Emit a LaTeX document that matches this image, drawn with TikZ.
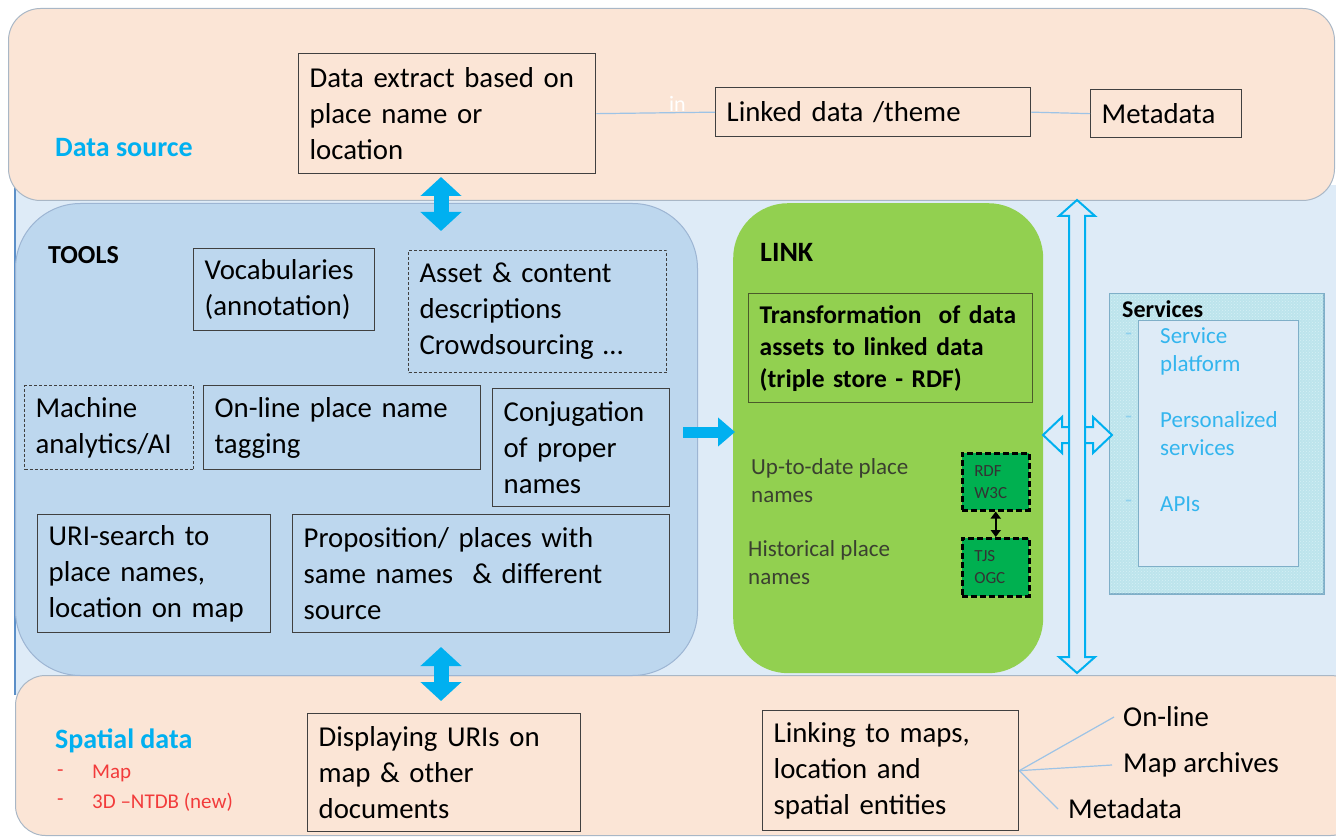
\documentclass[tikz,border=0pt]{standalone}
\usepackage{fontspec}
\setmainfont{Carlito}
\usetikzlibrary{arrows.meta,patterns}
\definecolor{peach}{HTML}{FBE5D6}
\definecolor{bgblue}{HTML}{DEEBF7}
\definecolor{toolblue}{HTML}{BDD7EE}
\definecolor{toolborder}{HTML}{9DB5D3}
\definecolor{linkgreen}{HTML}{92D050}
\definecolor{cyanA}{HTML}{00B0F0}
\definecolor{darkgreen}{HTML}{00B050}
\definecolor{linecol}{HTML}{9DC3E6}
\definecolor{svcfill}{HTML}{BCE4EC}
\definecolor{svcdots}{HTML}{D6F0F5}
\definecolor{svcborder}{HTML}{7FAFC8}
\definecolor{svctext}{HTML}{33B5EE}
\definecolor{svcbul}{HTML}{8FD0EC}
\definecolor{redtext}{HTML}{F23B3B}
\definecolor{panelborder}{HTML}{A9B7C6}
\definecolor{leftborder}{HTML}{5B8FC8}
\definecolor{olivebd}{HTML}{4A5A2A}
\definecolor{darktext}{HTML}{3A4030}
\newcommand\fsz[2]{\fontsize{#1}{#2}\selectfont}
\tikzset{
  panel/.style={anchor=north west, inner sep=0pt},
  box/.style={draw=black!75, line width=1.3pt, anchor=north west, align=left,
    inner xsep=11pt, inner ysep=0pt, font=\fsz{28.8}{36}},
  dbox/.style={box, dashed, dash pattern=on 3pt off 2pt, line width=1pt},
  lbl/.style={anchor=west, inner sep=0pt, align=left},
  conn/.style={draw=linecol, line width=1.2pt},
  fatarrow/.style={draw=cyanA, line width=15pt,
    {Triangle[width=40pt,length=19pt]}-{Triangle[width=40pt,length=19pt]}},
  rightarrow/.style={draw=cyanA, line width=11pt, -{Triangle[width=28pt,length=17pt]}},
  outarrow/.style={draw=cyanA, line width=2pt, fill=bgblue, line join=miter},
  rdfbox/.style={draw=black, fill=darkgreen, line width=2.5pt, dash pattern=on 6pt off 3pt,
    anchor=north west, align=left, inner xsep=12pt, inner ysep=0pt, text width=43pt,
    font=\fsz{17}{22}, text=black!80},
}
\begin{document}
\begin{tikzpicture}[x=1pt,y=-1pt]
\useasboundingbox (0,0) rectangle (1336,837);
% background band
\node[panel, fill=bgblue, minimum width=1330pt, minimum height=510pt] (bg) at (15,185) {};
\draw[leftborder, line width=1.5pt] (bg.north west) -- (bg.south west);
% panels
\node[panel, fill=peach, draw=panelborder, line width=1pt, rounded corners=32pt,
  minimum width=1326pt, minimum height=192pt] (top) at (8,8) {};
\node[panel, fill=peach, draw=panelborder, line width=1pt, rounded corners=30pt,
  minimum width=1345pt, minimum height=160pt] (bot) at (15,675) {};
\node[panel, fill=toolblue, draw=toolborder, line width=1pt, rounded corners=65pt,
  minimum width=682pt, minimum height=472pt] (tools) at (15,203) {};
\node[panel, fill=linkgreen, rounded corners=55pt,
  minimum width=310pt, minimum height=470pt] (link) at (733,203) {};
% services
\node[panel, fill=svcfill, draw=svcborder, line width=1pt,
  minimum width=214pt, minimum height=300pt] (svc) at (1109,293) {};
\fill[pattern=crosshatch dots, pattern color=svcdots] (svc.north west) rectangle (svc.south east);
\draw[svcborder, line width=1pt] (svc.north west) rectangle (svc.south east);
\node[panel, fill=bgblue, draw=svcborder, line width=1pt,
  minimum width=160pt, minimum height=246pt] (svcin) at (1138,320) {};
\node[lbl, font=\bfseries\fsz{24}{28}] (svcl) at (1122,309) {Services};
\node[lbl, text=svcbul, font=\fsz{23}{28}] (b1) at (1125,337) {-};
\node[lbl, text=svcbul, font=\fsz{23}{28}] (b2) at (1125,420) {-};
\node[lbl, text=svcbul, font=\fsz{23}{28}] (b3) at (1125,504) {-};
\node[lbl, text=svctext, font=\fsz{23}{28}] (s1) at (1160,351) {Service\\platform};
\node[lbl, text=svctext, font=\fsz{23}{28}] (s2) at (1160,434) {Personalized\\services};
\node[lbl, text=svctext, font=\fsz{23}{28}] (s3) at (1160,504) {APIs};
% labels
\node[lbl, text=cyanA, font=\bfseries\fsz{28}{34}] (dsl) at (55,148) {Data source};
\node[lbl, font=\bfseries\fsz{26}{30}] (toolsl) at (48,255) {TOOLS};
\node[lbl, font=\bfseries\fsz{28}{34}] (linkl) at (760,252) {LINK};
\node[lbl, text=cyanA, font=\bfseries\fsz{28}{34}] (spl) at (55,741) {Spatial data};
\node[lbl, text=redtext, font=\fsz{21}{29}] (r1d) at (57,773) {-};
\node[lbl, text=redtext, font=\fsz{21}{29}] (r1) at (92,773) {Map};
\node[lbl, text=redtext, font=\fsz{21}{29}] (r2d) at (57,802) {-};
\node[lbl, text=redtext, font=\fsz{21}{29}] (r2) at (92,802) {3D –NTDB (new)};
% top boxes
\node[box, text width=275pt, minimum height=120pt] (dx) at (298,53) {Data extract based on\\place name or\\location};
\node[box, text width=293pt, minimum height=49pt] (ld) at (715,87) {Linked data /theme};
\node[box, text width=129pt, minimum height=48pt] (md) at (1090,89) {Metadata};
\node[lbl, text=white, font=\fsz{22}{26}] (inl) at (669,104) {in};
\draw[conn] (dx.east) -- (ld.west);
\draw[conn] (ld.east) -- (md.west);
% tools boxes
\node[box, text width=159pt, minimum height=82pt] (voc) at (193,248) {Vocabularies\\(annotation)};
\node[dbox, text width=236pt, minimum height=122pt] (asset) at (408,250) {Asset \& content\\descriptions\\Crowdsourcing …};
\node[dbox, text width=147pt, minimum height=84pt] (mach) at (24,385) {Machine\\analytics/AI};
\node[box, text width=255pt, minimum height=84pt] (onl) at (203,385) {On-line place name\\tagging};
\node[box, text width=155pt, minimum height=118pt] (conj) at (492,388) {Conjugation\\of proper\\names};
\node[box, text width=211pt, minimum height=118pt] (uri) at (37,514) {URI-search to\\place names,\\location on map};
\node[box, text width=355pt, minimum height=118pt] (prop) at (292,514) {Proposition/ places with\\same names\ \ \& different\\source};
% link contents
\node[box, draw=olivebd, line width=1.3pt, text width=262pt, minimum height=109pt,
  font=\bfseries\fsz{25.5}{32}] (trans) at (748,293) {Transformation\ \ of data\\assets to linked data\\(triple store - RDF)};
\node[lbl, text=darktext, font=\fsz{23}{28}] (upd) at (751,481) {Up-to-date place\\names};
\node[lbl, text=darktext, font=\fsz{23}{28}] (hist) at (748,563) {Historical place\\names};
\node[rdfbox, minimum height=57pt] (rdf) at (961,452) {RDF\\W3C};
\node[rdfbox, minimum height=58pt] (tjs) at (961,537) {TJS\\OGC};
\draw[line width=2.5pt, {Triangle[width=10pt,length=7pt]}-{Triangle[width=10pt,length=7pt]}] (rdf.south) -- (tjs.north);
% bottom boxes
\node[box, text width=251pt, minimum height=118pt] (disp) at (307,713) {Displaying URIs on\\map \& other\\documents};
\node[box, text width=234pt, minimum height=120pt] (lnk) at (762,710) {Linking to maps,\\location and\\spatial entities};
\node[lbl, font=\fsz{28.8}{36}] (ol) at (1123,717) {On-line};
\node[lbl, font=\fsz{28.8}{36}] (ma) at (1123,765) {Map archives};
\node[lbl, font=\fsz{28.8}{36}] (mdb) at (1068,809) {Metadata};
\draw[conn] (lnk.east) -- ([xshift=-9pt]ol.west);
\draw[conn] (lnk.east) -- ([xshift=-11pt]ma.west);
\draw[conn] (lnk.east) -- ([xshift=-10pt]mdb.west);
% outline cross arrows
\draw[outarrow] (1043,435) -- (1062,417) -- (1062,427) -- (1093,427) -- (1093,417) -- (1112,435)
  -- (1093,453) -- (1093,443) -- (1062,443) -- (1062,453) -- cycle;
\draw[outarrow] (1077,200) -- (1095,216) -- (1085,216) -- (1085,657) -- (1095,657) -- (1077,673)
  -- (1059,657) -- (1069,657) -- (1069,216) -- (1059,216) -- cycle;
% solid arrows
\coordinate (fa1) at (441,177);
\coordinate (fa2) at (441,231);
\coordinate (fb1) at (441,647);
\coordinate (fb2) at (441,701);
\coordinate (ra1) at (683,432);
\coordinate (ra2) at (735,432);
\draw[fatarrow] (fa1) -- (fa2);
\draw[fatarrow] (fb1) -- (fb2);
\draw[rightarrow] (ra1) -- (ra2);
\end{tikzpicture}
\end{document}
